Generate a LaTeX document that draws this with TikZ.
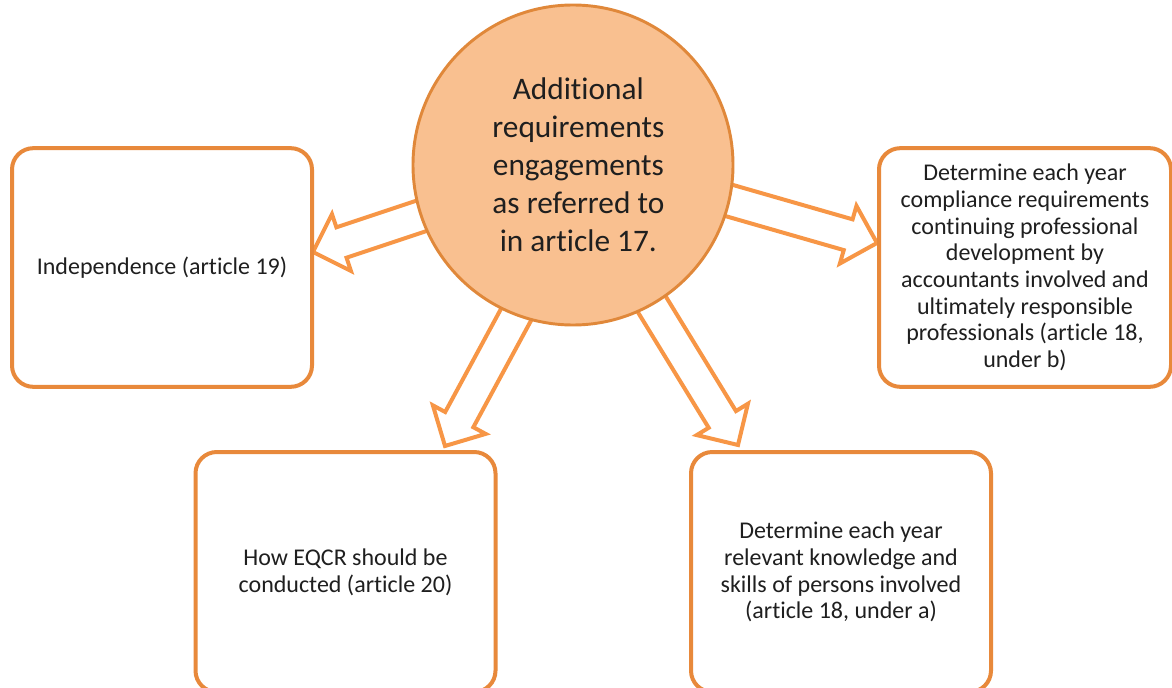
\documentclass[tikz,border=0pt]{standalone}
\usepackage{fontspec}
\setmainfont{Carlito}[RawFeature={-liga;-clig;-calt;-dlig;-rlig}]
\usetikzlibrary{calc, backgrounds}

\definecolor{boxorange}{HTML}{E8893B}
\definecolor{arroworange}{HTML}{F79646}
\definecolor{hubfill}{HTML}{F9C090}
\definecolor{hubline}{HTML}{E0883A}
\definecolor{txt}{HTML}{1F1F1F}

% hollow block arrow: #1 tail, #2 tip
\newcommand{\blockarrow}[2]{%
  \draw[arrowline] ($(#1)!12pt!90:(#2)$)
    -- ($(#2)!22.5pt!(#1)!12pt!90:(#2)$)
    -- ($(#2)!22.5pt!(#1)!22.5pt!90:(#2)$)
    -- (#2)
    -- ($(#2)!22.5pt!(#1)!22.5pt!-90:(#2)$)
    -- ($(#2)!22.5pt!(#1)!12pt!-90:(#2)$)
    -- ($(#1)!12pt!-90:(#2)$) -- cycle;}

\begin{document}
\begin{tikzpicture}[x=0.75pt, y=-0.75pt,
    infobox/.style={draw=boxorange, line width=3pt, rounded corners=16pt, fill=white,
        minimum width=225pt, minimum height=179pt, align=center, text=txt,
        font=\fontsize{18}{20}\selectfont},
    hub/.style={circle, draw=hubline, line width=2.2pt, fill=hubfill, minimum size=240pt,
        align=center, text=txt, font=\fontsize{23.5}{28.5}\selectfont},
    arrowline/.style={draw=arroworange, line width=3pt, fill=white, line join=miter}]

    \useasboundingbox (0,0) rectangle (1172,688);
    \clip (0,0) rectangle (1172,688);

    % centre circle
    \node[hub] (req) at (573,165) {\hspace*{8pt}Additional\\\hspace*{8pt}requirements\\\hspace*{8pt}engagements\\\hspace*{8pt}as referred to\\\hspace*{8pt}in article 17.};

    % boxes
    \node[infobox] (indep) at (162,267.5) {Independence (article 19)};
    \node[infobox, minimum width=219pt] (cpd) at (1025,267.5) {Determine each year\\compliance requirements\\continuing professional\\development by\\accountants involved and\\ultimately responsible\\professionals (article 18,\\under b)};
    \node[infobox, minimum height=180pt] (eqcr) at (345.5,572) {How EQCR should be\\conducted (article 20)};
    \node[infobox, minimum height=180pt] (knowledge) at (841,572) {Determine each year\\relevant knowledge and\\skills of persons involved\\(article 18, under a)};

    % arrow ends
    \coordinate (tailI) at (445,208);
    \coordinate (tipI) at (313,252);
    \coordinate (tailC) at (710,195);
    \coordinate (tipC) at (877,243);
    \coordinate (tailE) at (531,287);
    \coordinate (tipE) at (445,446);
    \coordinate (tailK) at (640,285);
    \coordinate (tipK) at (738,445);

    % arrows behind the circle
    \begin{scope}[on background layer]
        \blockarrow{tailI}{tipI}
        \blockarrow{tailC}{tipC}
        \blockarrow{tailE}{tipE}
        \blockarrow{tailK}{tipK}
    \end{scope}

\end{tikzpicture}
\end{document}
